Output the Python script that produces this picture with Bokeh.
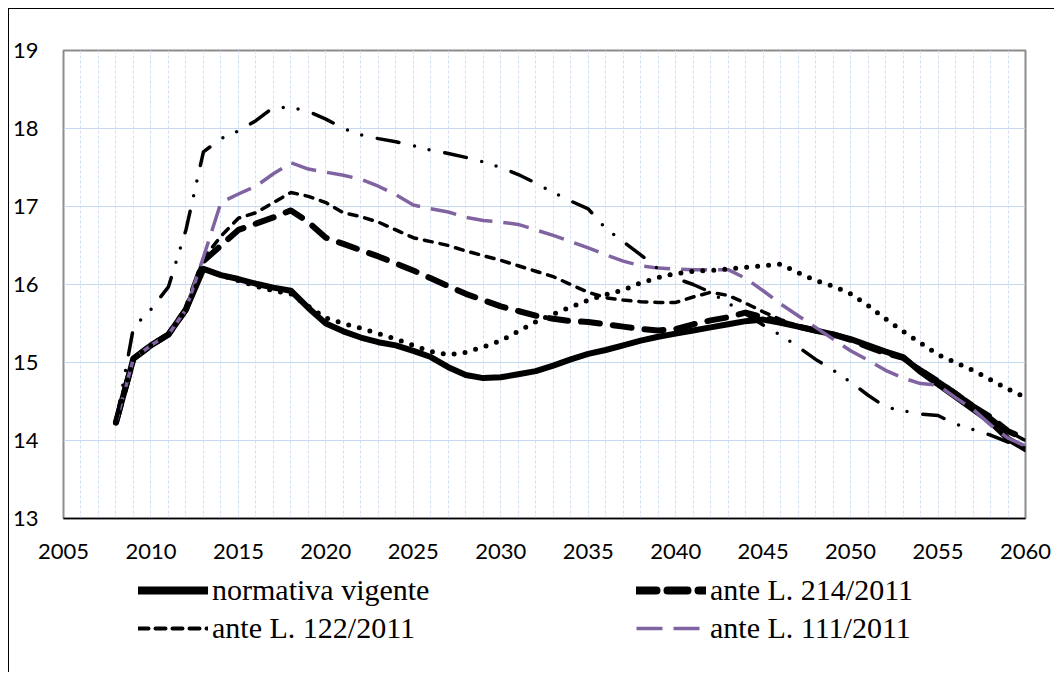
from bokeh.plotting import figure
from bokeh.layouts import column
from bokeh.models import FixedTicker, Range1d, Legend, LegendItem, ColumnDataSource
from bokeh.embed import file_html
from bokeh.resources import INLINE

years = list(range(2008, 2061))

normativa_vigente = [14.23, 15.05, 15.22, 15.36, 15.68, 16.2, 16.12, 16.07, 16.01, 15.96,
                     15.92, 15.7, 15.5, 15.4, 15.32, 15.26, 15.22, 15.15, 15.07, 14.94,
                     14.84, 14.8, 14.81, 14.85, 14.89, 14.96, 15.04, 15.11, 15.16, 15.22,
                     15.28, 15.33, 15.37, 15.41, 15.45, 15.49, 15.53, 15.55, 15.51, 15.46,
                     15.41, 15.36, 15.3, 15.22, 15.14, 15.07, 14.88, 14.72, 14.56, 14.4,
                     14.24, 14.02, 13.89]

ante_214 = [14.23, 15.05, 15.22, 15.36, 15.68, 16.3, 16.5, 16.7, 16.78, 16.86,
            16.95, 16.8, 16.6, 16.52, 16.44, 16.36, 16.27, 16.18, 16.08, 15.98,
            15.88, 15.8, 15.72, 15.66, 15.6, 15.56, 15.53, 15.52, 15.49, 15.46,
            15.43, 15.41, 15.43, 15.49, 15.54, 15.58, 15.64, 15.58, 15.52, 15.46,
            15.41, 15.36, 15.29, 15.2, 15.12, 15.06, 14.9, 14.76, 14.6, 14.44,
            14.3, 14.12, 14.02]

ante_122 = [14.23, 15.05, 15.22, 15.36, 15.68, 16.33, 16.62, 16.85, 16.92, 17.05,
            17.18, 17.13, 17.05, 16.92, 16.87, 16.8, 16.7, 16.6, 16.55, 16.5,
            16.43, 16.37, 16.31, 16.24, 16.17, 16.1, 16.0, 15.9, 15.83, 15.8,
            15.78, 15.77, 15.77, 15.84, 15.9, 15.86, 15.76, 15.65, 15.55, 15.47,
            15.42, 15.36, 15.3, 15.22, 15.14, 15.06, 14.92, 14.77, 14.62, 14.46,
            14.3, 14.12, 14.0]

ante_111 = [14.23, 15.05, 15.22, 15.36, 15.68, 16.35, 17.05, 17.16, 17.26, 17.42,
            17.56, 17.48, 17.44, 17.4, 17.35, 17.26, 17.15, 17.02, 16.97, 16.93,
            16.86, 16.82, 16.8, 16.77, 16.7, 16.63, 16.55, 16.47, 16.38, 16.3,
            16.24, 16.21, 16.2, 16.19, 16.19, 16.19, 16.08, 15.92, 15.75, 15.6,
            15.45, 15.3, 15.15, 15.03, 14.9, 14.8, 14.73, 14.71, 14.55, 14.4,
            14.2, 14.03, 13.93]

serie_punti = [14.23, 15.05, 15.22, 15.36, 15.68, 16.2, 16.12, 16.05, 15.98, 15.92,
               15.88, 15.72, 15.57, 15.5, 15.44, 15.37, 15.3, 15.22, 15.14, 15.1,
               15.13, 15.2, 15.28, 15.4, 15.52, 15.62, 15.71, 15.8, 15.87, 15.93,
               16.02, 16.09, 16.14, 16.17, 16.18, 16.2, 16.22, 16.24, 16.26, 16.15,
               16.05, 15.98, 15.88, 15.73, 15.56, 15.4, 15.25, 15.1, 15.0, 14.9,
               14.78, 14.66, 14.55]

serie_tratto_punto = [14.23, 15.45, 15.68, 15.97, 16.7, 17.7, 17.87, 17.97, 18.1, 18.27,
                      18.27, 18.22, 18.12, 18.0, 17.92, 17.87, 17.83, 17.78, 17.72, 17.68,
                      17.63, 17.57, 17.5, 17.41, 17.3, 17.18, 17.07, 16.97, 16.72, 16.55,
                      16.38, 16.2, 16.08, 16.0, 15.9, 15.76, 15.62, 15.48, 15.35, 15.2,
                      15.04, 14.9, 14.75, 14.58, 14.43, 14.38, 14.34, 14.32, 14.21, 14.14,
                      14.07, 13.98, 13.9]

x_ticks = list(range(2005, 2061, 5))
y_ticks = list(range(13, 20))
legend_labels = ["normativa vigente", "ante L. 214/2011", "ante L. 122/2011", "ante L. 111/2011"]

src = ColumnDataSource(dict(year=years, nv=normativa_vigente, a214=ante_214, a122=ante_122,
                            a111=ante_111, dot=serie_punti, dd=serie_tratto_punto))

W = 1045
p = figure(width=W, height=560, x_range=Range1d(2005, 2060), y_range=Range1d(13, 19),
           output_backend="svg", toolbar_location=None,
           min_border_left=53, min_border_top=41, min_border_right=29, min_border_bottom=51)

grid_col = "#c6d9f1"
p.xaxis.ticker = FixedTicker(ticks=x_ticks, minor_ticks=list(range(2005, 2061)))
p.yaxis.ticker = FixedTicker(ticks=y_ticks)
p.xgrid.grid_line_color = "#d3e0f2"
p.xgrid.grid_line_dash = "3 2"
p.xgrid.minor_grid_line_color = "#d3e0f2"
p.xgrid.minor_grid_line_dash = "3 2"
p.ygrid.grid_line_color = grid_col

for ax in (p.xaxis[0], p.yaxis[0]):
    ax.major_tick_line_color = None
    ax.minor_tick_line_color = None
    ax.major_tick_out = 0
    ax.major_tick_in = 0
    ax.minor_tick_out = 0
    ax.minor_tick_in = 0
    ax.major_label_text_font = "Lato"
    ax.major_label_text_font_size = "22px"
    ax.major_label_text_color = "#000000"
p.xaxis.axis_line_color = "black"
p.xaxis.axis_line_width = 1.5
p.xaxis.major_label_standoff = 25
p.yaxis.axis_line_color = None
p.yaxis.major_label_standoff = 25

p.outline_line_color = "#8c8c8c"
p.outline_line_width = 2

styles = dict(
    nv=dict(line_color="black", line_width=6, line_join="round", line_cap="round"),
    a214=dict(line_color="black", line_width=6, line_join="round", line_cap="round", line_dash="19 13"),
    a122=dict(line_color="black", line_width=3.5, line_join="round", line_cap="round", line_dash="8 8"),
    a111=dict(line_color="#8064a2", line_width=3.5, line_join="round", line_dash="26 11"),
    dot=dict(line_color="black", line_width=5, line_cap="round", line_dash="0 11"),
    dd=dict(line_color="black", line_width=3.5, line_cap="round", line_join="round",
            line_dash="22 16 0 15 0 16"),
)
for key in ["nv", "a214", "a122", "a111", "dot", "dd"]:
    p.line("year", key, source=src, **styles[key])

# legend keys are drawn a little heavier, as in the reference
legend_styles = dict(styles)
legend_styles["nv"] = dict(styles["nv"], line_width=8)
legend_styles["a214"] = dict(styles["a214"], line_width=8, line_dash="20 11")
legend_styles["a122"] = dict(styles["a122"], line_width=4, line_dash="10 7")

# legend panel below the chart (its frame is aligned with the chart frame by the column layout);
# the series are drawn here far outside the visible range, only to provide the legend keys
p2 = figure(width=W, height=103, x_range=Range1d(0, 1), y_range=Range1d(0, 1),
            output_backend="svg", toolbar_location=None,
            x_axis_location=None, y_axis_location=None,
            min_border_left=0, min_border_right=0, min_border_top=0, min_border_bottom=0)
p2.grid.visible = False
p2.outline_line_color = None
lr = {k: p2.line("year", k, source=src, **legend_styles[k]) for k in ["nv", "a214", "a122", "a111"]}

legend = Legend(items=[LegendItem(label=legend_labels[0], renderers=[lr["nv"]]),
                       LegendItem(label=legend_labels[2], renderers=[lr["a122"]]),
                       LegendItem(label=legend_labels[1], renderers=[lr["a214"]]),
                       LegendItem(label=legend_labels[3], renderers=[lr["a111"]])],
                location=(75, 25), orientation="vertical", ncols=2)
legend.label_text_font = "Liberation Serif"
legend.label_text_font_size = "30px"
legend.label_text_color = "black"
legend.glyph_width = 70
legend.glyph_height = 38
legend.label_height = 38
legend.label_width = 424
legend.label_standoff = 4
legend.spacing = 0
legend.padding = 0
legend.margin = 0
legend.border_line_color = None
legend.background_fill_alpha = 0
p2.add_layout(legend, "center")

layout = column(p, p2, spacing=0,
                styles={"margin-left": "8px", "margin-top": "8px",
                        "border-left": "1px solid #000", "border-top": "1px solid #000"})

open("out.html", "w").write(file_html(layout, INLINE))
